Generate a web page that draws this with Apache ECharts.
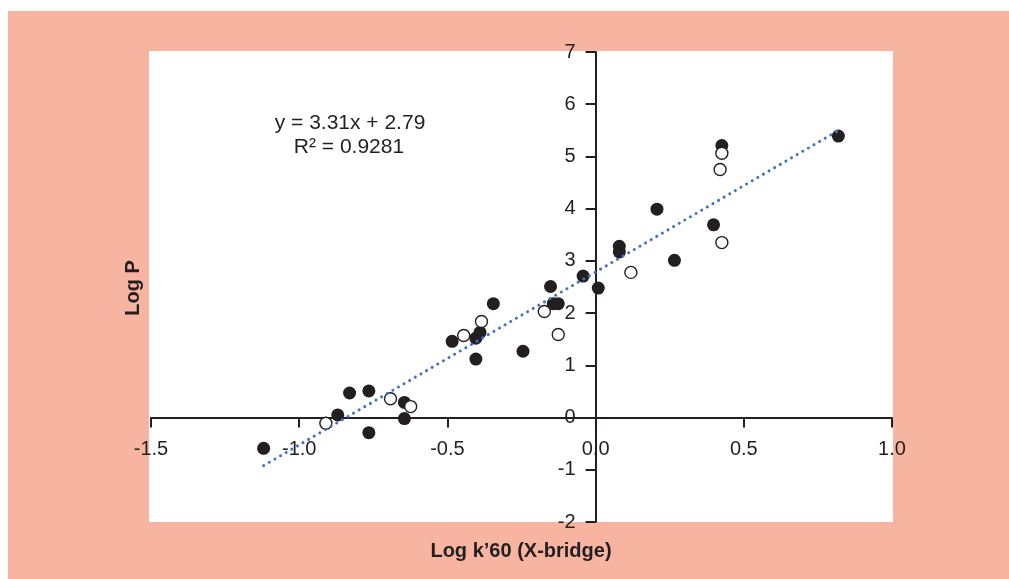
<!DOCTYPE html>
<html>
<head>
<meta charset="utf-8">
<title>Log P vs Log k'60</title>
<script src="https://cdn.jsdelivr.net/npm/echarts@6/dist/echarts.min.js"></script>
<style>
  html, body { margin: 0; padding: 0; background: #ffffff; }
  #chart { width: 1009px; height: 579px; }
</style>
</head>
<body>
<div id="chart"></div>
<script>
// filled circles
const filledX = [-1.12, -0.87, -0.83, -0.765, -0.765, -0.645, -0.645, -0.484, -0.404, -0.39, -0.404, -0.345, -0.245, -0.152, -0.143, -0.126, -0.042, 0.009, 0.08, 0.08, 0.207, 0.266, 0.398, 0.426, 0.819]
const filledY = [-0.59, 0.05, 0.47, 0.51, -0.29, 0.29, -0.02, 1.46, 1.52, 1.63, 1.12, 2.18, 1.27, 2.51, 2.18, 2.18, 2.71, 2.48, 3.28, 3.17, 3.99, 3.01, 3.69, 5.21, 5.39]

// open circles
const openX = [-0.91, -0.692, -0.624, -0.445, -0.385, -0.173, -0.126, 0.119, 0.426, 0.42, 0.426]
const openY = [-0.11, 0.36, 0.21, 1.57, 1.84, 2.03, 1.59, 2.78, 5.06, 4.75, 3.35]

// trend line end points
const trendX = [-1.12, 0.82]
const trendY = [-0.92, 5.50]

const xTicks = { min: -1.5, max: 1.0, step: 0.5 }
const yTicks = { min: -2, max: 7, step: 1 }

const equationText = 'y = 3.31x + 2.79'
const r2Text = 'R\u00b2 = 0.9281'
const xTitle = 'Log k\u201960 (X-bridge)'
const yTitle = 'Log P'

const ink = '#231f20'
const font = '"Liberation Sans", Arial, Helvetica, sans-serif'

const zip = (xs, ys) => xs.map((x, i) => [x, ys[i]])

const chart = echarts.init(document.getElementById('chart'))

// grid box, used to pull the tick labels onto the zero lines
const gridLeft = 151
const gridTop = 52
const gridRight = 117
const gridBottom = 57
const plotW = 1009 - gridLeft - gridRight
const plotH = 579 - gridTop - gridBottom
const zeroX = gridLeft + plotW * (0 - xTicks.min) / (xTicks.max - xTicks.min)
const zeroY = gridTop + plotH * (yTicks.max - 0) / (yTicks.max - yTicks.min)

chart.setOption({
  backgroundColor: '#ffffff',
  animation: false,
  textStyle: { fontFamily: font, color: ink },
  grid: { left: gridLeft, right: gridRight, top: gridTop, bottom: gridBottom },
  graphic: [
    {
      type: 'rect',
      z: -20,
      silent: true,
      shape: { x: 8, y: 11, width: 1001, height: 568 },
      style: { fill: '#f7b4a0' },
    },
    {
      type: 'rect',
      z: -19,
      silent: true,
      shape: { x: 149, y: 51, width: 744, height: 471 },
      style: { fill: '#ffffff' },
    },
    {
      type: 'text',
      x: 350,
      y: 123,
      style: { text: equationText, font: `21px ${font}`, fill: ink, align: 'center', verticalAlign: 'middle' },
    },
    {
      type: 'text',
      x: 349,
      y: 147,
      style: { text: r2Text, font: `21px ${font}`, fill: ink, align: 'center', verticalAlign: 'middle' },
    },
    {
      type: 'text',
      x: 133,
      y: 288,
      rotation: Math.PI / 2,
      style: { text: yTitle, font: `bold 20px ${font}`, fill: ink, align: 'center', verticalAlign: 'middle' },
    },
    {
      type: 'text',
      x: 521,
      y: 551,
      style: { text: xTitle, font: `bold 20px ${font}`, fill: ink, align: 'center', verticalAlign: 'middle' },
    },
  ],
  xAxis: {
    type: 'value',
    min: xTicks.min,
    max: xTicks.max,
    interval: xTicks.step,
    axisLine: { onZero: true, lineStyle: { color: ink, width: 2 } },
    axisTick: { show: true, length: 10, lineStyle: { color: ink, width: 2 } },
    axisLabel: {
      color: ink,
      fontSize: 20,
      fontFamily: font,
      margin: (zeroY + 22) - (gridTop + plotH),
      formatter: (v) => v.toFixed(1),
    },
    splitLine: { show: false },
  },
  yAxis: {
    type: 'value',
    min: yTicks.min,
    max: yTicks.max,
    interval: yTicks.step,
    axisLine: { show: true, onZero: true, lineStyle: { color: ink, width: 2 } },
    axisTick: { show: true, length: 10, lineStyle: { color: ink, width: 2 } },
    axisLabel: { color: ink, fontSize: 20, fontFamily: font, margin: gridLeft - zeroX + 20 },
    splitLine: { show: false },
  },
  series: [
    {
      name: 'filled',
      type: 'scatter',
      data: zip(filledX, filledY),
      symbol: 'circle',
      symbolSize: 13,
      itemStyle: { color: ink, opacity: 1 },
      z: 2,
    },
    {
      name: 'open',
      type: 'scatter',
      data: zip(openX, openY),
      symbol: 'circle',
      symbolSize: 12,
      itemStyle: { color: '#ffffff', borderColor: ink, borderWidth: 1.4, opacity: 1 },
      z: 3,
    },
    {
      name: 'trend',
      type: 'line',
      data: zip(trendX, trendY),
      showSymbol: false,
      symbol: 'none',
      lineStyle: { color: '#4472c4', width: 3, type: [0.1, 6.4], cap: 'round' },
      z: 4,
    },
  ],
})
</script>
</body>
</html>
